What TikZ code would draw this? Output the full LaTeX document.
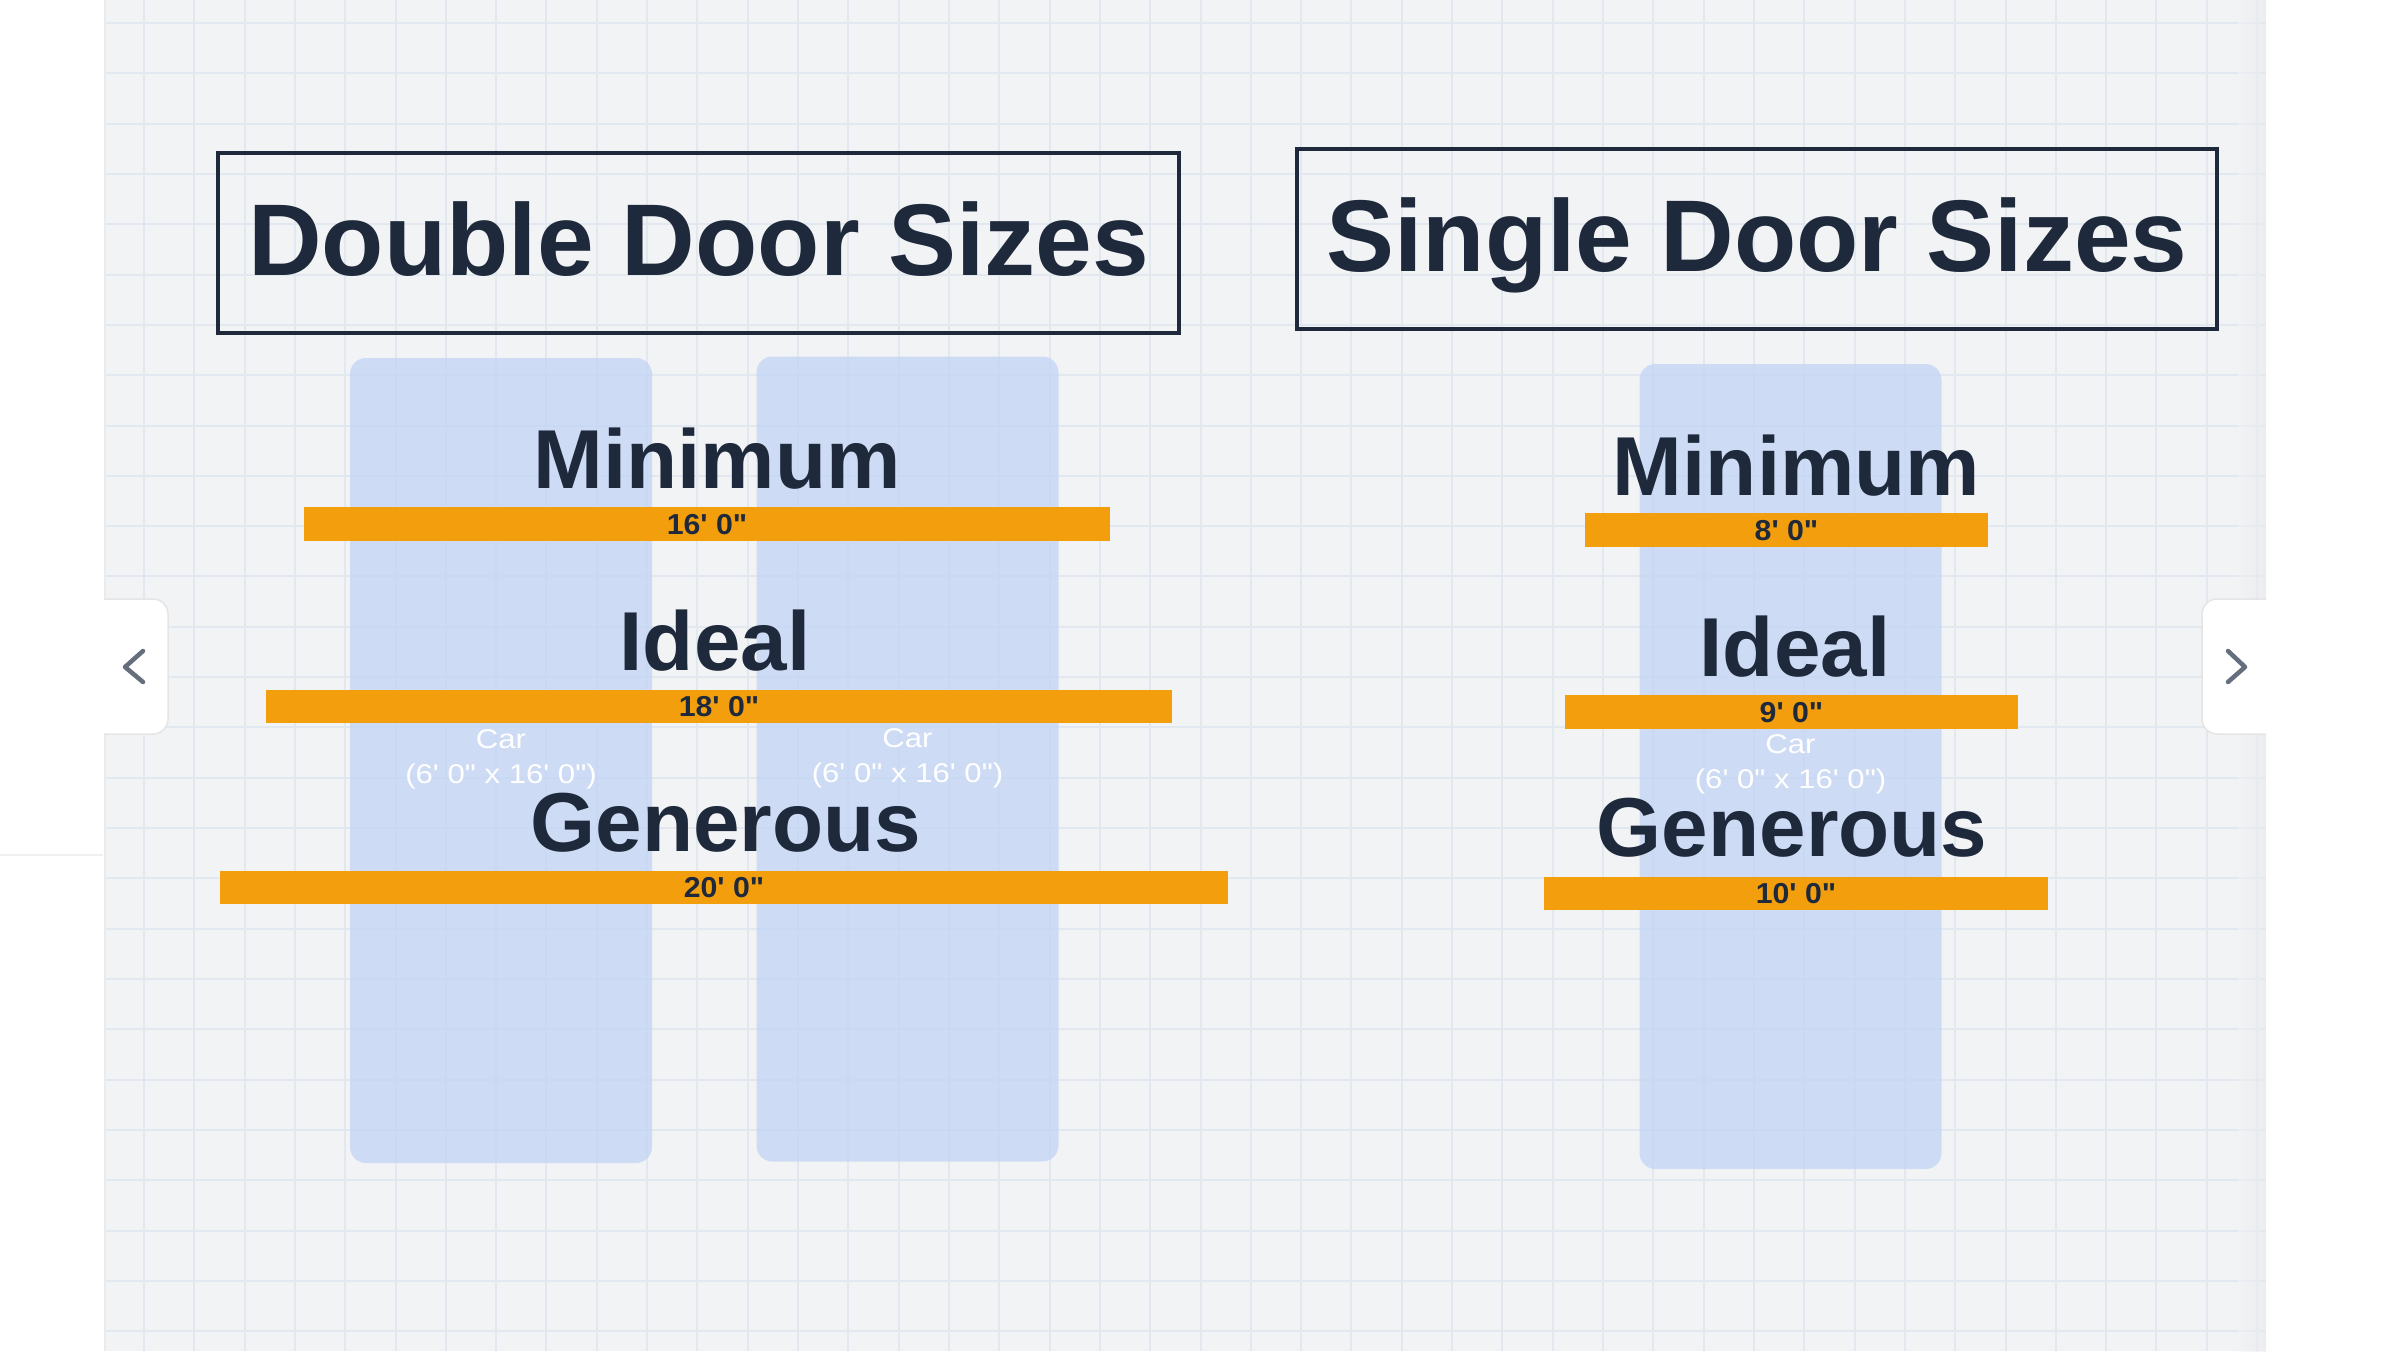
\documentclass[tikz,border=0pt]{standalone}
\usepackage{fontspec}
\newfontfamily\uifont{Liberation Sans}
\newfontfamily\carfont[FakeStretch=1.15]{Liberation Sans}
\newfontfamily\barfont[FakeStretch=1.05]{Liberation Sans}
\usepackage{tikz}
\usetikzlibrary{positioning}
\definecolor{canvasbg}{RGB}{242,243,245}
\definecolor{gridblue}{RGB}{226,232,240}
\definecolor{navy}{RGB}{30,41,59}
\definecolor{amber}{RGB}{243,158,12}
\definecolor{carblue}{RGB}{196,214,244}
\definecolor{chevgray}{RGB}{100,110,125}
\tikzstyle{titlebox}=[draw=navy,line width=0.04cm,minimum height=1.80cm,inner sep=0pt,text=navy,font=\uifont\bfseries\fontsize{29}{35}\selectfont,text height=0.74cm,text depth=0.09cm]
\tikzstyle{heading}=[inner sep=0pt,outer sep=0pt,text=navy,font=\uifont\bfseries\fontsize{23.8}{29}\selectfont,text depth=0pt]
\tikzstyle{bar}=[fill=amber,minimum height=0.335cm,inner sep=0pt,outer sep=0pt,text=navy,font=\barfont\bfseries\fontsize{8.2}{10}\selectfont,text height=0.207cm,text depth=0pt]
\tikzstyle{car}=[fill=carblue,fill opacity=0.8,rounded corners=0.16cm,minimum width=3.02cm,minimum height=8.05cm,inner sep=0pt]
\tikzstyle{carlabel}=[inner sep=0pt,text=white,align=center,font=\carfont\fontsize{7.7}{9.96}\selectfont]

\begin{document}
\begin{tikzpicture}[x=1cm,y=-1cm]
\tikzstyle{gridrule}=[draw=gridblue,line width=0.02cm]
\tikzstyle{navbtn}=[fill=white,draw=black!10,line width=0.015cm,rounded corners=0.15cm]
\tikzstyle{chevron}=[draw=chevgray,line width=0.045cm,line cap=round,line join=round]
\useasboundingbox (0,0) rectangle (24,13.51);
\fill[white] (0,0) rectangle (24,13.51);
\fill[canvasbg] (1.04,0) rectangle (22.66,13.51);
\begin{scope}
  \clip (1.04,0) rectangle (22.66,13.51);
  \foreach \k in {0,...,42} \draw[gridrule] ({1.44+0.5031*\k},0) -- ++(0,13.51);
  \foreach \k in {0,...,26} \draw[gridrule] (1.04,{0.2307+0.5031*\k}) -- ++(21.62,0);
  \shade[left color=canvasbg,right color=black!9,opacity=0.5] (22.38,0) rectangle (22.66,13.51);
\end{scope}
\draw[black!8,line width=0.02cm] (1.05,0) -- (1.05,13.51);
\draw[black!6,line width=0.02cm] (0,8.55) -- (1.03,8.55);

\node[car] (carA) at (5.01,7.605) {};
\node[car] (carB) at (9.075,7.59) {};
\node[car] (carS) at (17.905,7.665) {};
\node[carlabel] (lblA) at ([yshift=0.01cm]carA) {Car\\(6' 0" x 16' 0")};
\node[carlabel] (lblB) at ([yshift=0.01cm]carB) {Car\\(6' 0" x 16' 0")};
\node[carlabel] (lblS) at ([yshift=0.02cm]carS) {Car\\(6' 0" x 16' 0")};

\node[bar,minimum width=8.06cm] (dmin) at (7.07,5.24) {16' 0"};
\node[bar,minimum width=9.06cm] (dideal) at (7.19,7.065) {18' 0"};
\node[bar,minimum width=10.08cm] (dgen) at (7.24,8.875) {20' 0"};
\node[bar,minimum width=4.03cm] (smin) at (17.865,5.30) {8' 0"};
\node[bar,minimum width=4.53cm] (sideal) at (17.915,7.12) {9' 0"};
\node[bar,minimum width=5.04cm] (sgen) at (17.96,8.935) {10' 0"};

\node[heading,above=0.19cm of dmin,xshift=0.1cm] (hdmin) {Minimum};
\node[heading,above=0.19cm of dideal,xshift=-0.04cm] (hdideal) {Ideal};
\node[heading,above=0.19cm of dgen,xshift=0.02cm] (hdgen) {Generous};
\node[heading,above=0.18cm of smin,xshift=0.1cm] (hsmin) {Minimum};
\node[heading,above=0.19cm of sideal,xshift=0.035cm] (hsideal) {Ideal};
\node[heading,above=0.2cm of sgen,xshift=-0.04cm] (hsgen) {Generous};

\node[titlebox,minimum width=9.61cm] (tdouble) at (6.985,2.43) {Double Door Sizes};
\node[titlebox,minimum width=9.20cm] (tsingle) at (17.57,2.385) {Single Door Sizes};

\draw[navbtn] (1.04,5.99) -- (1.68,5.99) -- (1.68,7.34) -- (1.04,7.34);
\draw[navbtn] (22.66,5.99) -- (22.02,5.99) -- (22.02,7.34) -- (22.66,7.34);
\draw[chevron] (1.43,6.51) -- (1.25,6.67) -- (1.43,6.82);
\draw[chevron] (22.28,6.51) -- (22.45,6.67) -- (22.28,6.82);
\end{tikzpicture}
\end{document}
